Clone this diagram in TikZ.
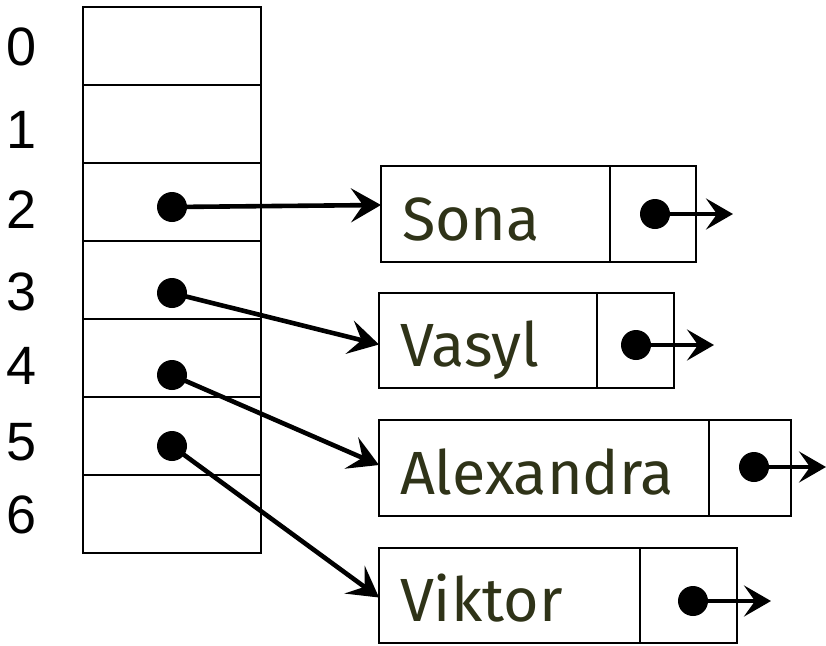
\documentclass[tikz,border=0pt]{standalone}
\usepackage{fontspec}
\setmainfont{Liberation Sans}
\newfontfamily\namefont{Fira Sans}
\usetikzlibrary{arrows.meta}
\definecolor{namecol}{HTML}{2F3318}
\begin{document}
\begin{tikzpicture}[x=1pt,y=-1pt,
  cell/.style={draw, line width=2pt, minimum width=178pt, minimum height=78pt, inner sep=0pt, outer sep=0pt, anchor=north west},
  digit/.style={font=\fontsize{54}{64}\selectfont, inner sep=0pt},
  namebox/.style={draw, line width=2.2pt, anchor=north west, inner xsep=21pt, inner ysep=0pt, outer sep=0pt,
     text width=#1-42pt, align=left, font=\namefont\fontsize{61}{72}\selectfont, text=namecol,
     text height=52pt, text depth=0pt, minimum height=96pt},
  ptrbox/.style={draw, line width=2.2pt, anchor=north west, inner sep=0pt, outer sep=0pt, minimum width=#1, minimum height=96pt},
  dot/.style={circle, fill=black, minimum size=30pt, inner sep=0pt},
  link/.style={line width=4.6pt, -{Stealth[length=30pt,width=34pt,inset=12pt]}},
  nextlink/.style={line width=4pt, -{Stealth[length=27pt,width=31pt,inset=11pt]}}]
\useasboundingbox (0,0) rectangle (826,645);
% table
\foreach \i in {0,...,6}{
  \node[cell] (c\i) at (83,{7+78*\i}) {};
}
\node[digit] (n0) at (22,47) {0};
\node[digit] (n1) at (22,130) {1};
\node[digit] (n2) at (22,210) {2};
\node[digit] (n3) at (22,292) {3};
\node[digit] (n4) at (22,366) {4};
\node[digit] (n5) at (22,442) {5};
\node[digit] (n6) at (22,515) {6};
% dots in table
\node[dot] (p2) at (172,207) {};
\node[dot] (p3) at (172,293) {};
\node[dot] (p4) at (172,375) {};
\node[dot] (p5) at (172,446) {};
% list nodes
\node[namebox=229pt, minimum height=96pt] (sona) at (381,166) {Sona};
\node[ptrbox=86pt] (sonap) at (sona.north east) {};
\node[namebox=218pt, minimum height=95pt] (vasyl) at (379,293) {Vasyl};
\node[ptrbox=77pt, minimum height=95pt] (vasylp) at (vasyl.north east) {};
\node[namebox=330pt] (alex) at (379,420) {Alexandra};
\node[ptrbox=82pt] (alexp) at (alex.north east) {};
\node[namebox=261pt, minimum height=95pt] (vik) at (379,548) {Viktor};
\node[ptrbox=97pt, minimum height=95pt] (vikp) at (vik.north east) {};
% pointer dots
\node[dot] (sonad) at (655,214) {};
\node[dot] (vasyld) at (636,345) {};
\node[dot] (alexd) at (754,467) {};
\node[dot] (vikd) at (693,601) {};
\coordinate (sonae) at (733,214);
\coordinate (vasyle) at (714,345);
\coordinate (alexe) at (826,467);
\coordinate (vike) at (771,601);
% connectors
\draw[link] (p2.center) -- ([yshift=9pt]sona.west);
\draw[link] (p3.center) -- ([yshift=-4pt]vasyl.west);
\draw[link] (p4.center) -- ([yshift=3pt]alex.west);
\draw[link] (p5.center) -- ([yshift=-2pt]vik.west);
\draw[nextlink] (sonad.center) -- (sonae);
\draw[nextlink] (vasyld.center) -- (vasyle);
\draw[nextlink] (alexd.center) -- (alexe);
\draw[nextlink] (vikd.center) -- (vike);
\end{tikzpicture}
\end{document}
